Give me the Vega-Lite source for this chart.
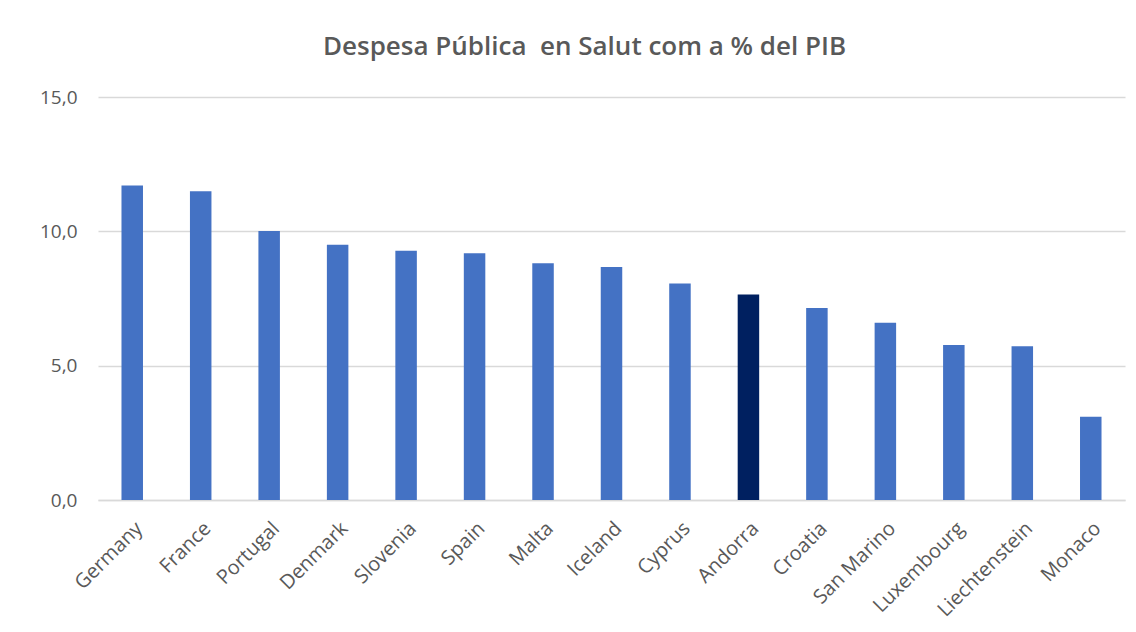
{
  "$schema": "https://vega.github.io/schema/vega-lite/v6.json",
  "autosize": "none",
  "width": 1027,
  "height": 403,
  "padding": {"left": 98, "top": 97, "right": 10, "bottom": 132},
  "background": "white",
  "title": {
    "text": "Despesa Pública\u00a0 en Salut com a % del PIB",
    "font": "Open Sans",
    "fontSize": 26,
    "fontWeight": 600,
    "color": "#595959",
    "anchor": "middle",
    "dx": -27,
    "offset": 28
  },
  "data": {
    "values": [
      {"country": "Germany", "value": 11.71},
      {"country": "France", "value": 11.49},
      {"country": "Portugal", "value": 10.01},
      {"country": "Denmark", "value": 9.5},
      {"country": "Slovenia", "value": 9.28},
      {"country": "Spain", "value": 9.18},
      {"country": "Malta", "value": 8.81},
      {"country": "Iceland", "value": 8.67},
      {"country": "Cyprus", "value": 8.06},
      {"country": "Andorra", "value": 7.65},
      {"country": "Croatia", "value": 7.15},
      {"country": "San Marino", "value": 6.6},
      {"country": "Luxembourg", "value": 5.77},
      {"country": "Liechtenstein", "value": 5.72},
      {"country": "Monaco", "value": 3.1}
    ]
  },
  "mark": {"type": "bar"},
  "encoding": {
    "x": {
      "field": "country",
      "type": "nominal",
      "sort": null,
      "scale": {"paddingInner": 0.686, "paddingOuter": 0.343},
      "axis": {
        "title": null,
        "labelAngle": -45,
        "labelFont": "Open Sans",
        "labelFontSize": 20,
        "labelColor": "#595959",
        "labelPadding": 18,
        "ticks": false,
        "domain": true,
        "domainColor": "#D9D9D9",
        "domainWidth": 1.5
      }
    },
    "y": {
      "field": "value",
      "type": "quantitative",
      "scale": {"domain": [0, 15]},
      "axis": {
        "title": null,
        "values": [0, 5, 10, 15],
        "labelExpr": "replace(format(datum.value, '.1f'), '.', ',')",
        "labelFont": "Open Sans",
        "labelFontSize": 19,
        "labelColor": "#595959",
        "labelPadding": 21,
        "ticks": false,
        "domain": false,
        "grid": true,
        "gridColor": "#D9D9D9",
        "gridWidth": 1.5
      }
    },
    "color": {
      "condition": {"test": "datum.country === 'Andorra'", "value": "#002060"},
      "value": "#4472C4"
    }
  },
  "config": {
    "view": {"stroke": null}
  }
}
